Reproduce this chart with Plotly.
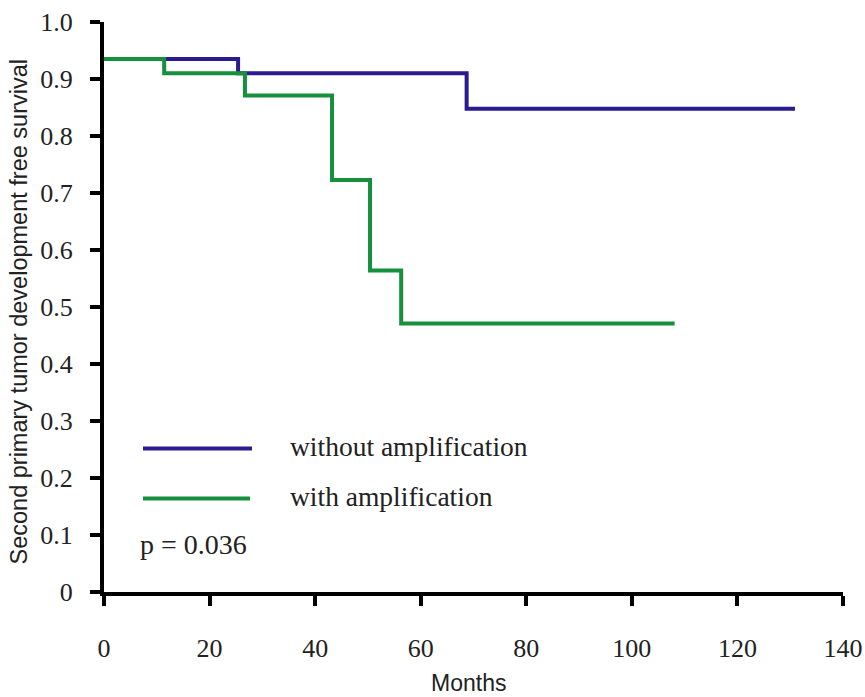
import plotly.graph_objects as go

# Kaplan-Meier step data
without_time = [0, 25.4, 68.7, 130.9]
without_surv = [0.935, 0.910, 0.848, 0.848]

with_time = [0, 11.4, 26.7, 43.2, 50.4, 56.3, 108.1]
with_surv = [0.935, 0.910, 0.871, 0.723, 0.564, 0.471, 0.471]

x_ticks = [0, 20, 40, 60, 80, 100, 120, 140]
y_ticks = [0, 0.1, 0.2, 0.3, 0.4, 0.5, 0.6, 0.7, 0.8, 0.9, 1.0]
y_tick_text = ["0", "0.1", "0.2", "0.3", "0.4", "0.5", "0.6", "0.7", "0.8", "0.9", "1.0"]

BLUE = "#2a1b8e"
GREEN = "#17903e"
SERIF = "Liberation Serif, Times New Roman, serif"
SANS = "Liberation Sans, Arial, sans-serif"
TXT = "#222"

fig = go.Figure()
fig.add_trace(go.Scatter(x=without_time, y=without_surv, mode="lines",
                         line=dict(color=BLUE, width=4, shape="hv"),
                         name="without amplification", showlegend=False))
fig.add_trace(go.Scatter(x=with_time, y=with_surv, mode="lines",
                         line=dict(color=GREEN, width=4, shape="hv"),
                         name="with amplification", showlegend=False))

fig.update_layout(
    width=865, height=697,
    margin=dict(l=104, r=22, t=22, b=105),
    paper_bgcolor="white", plot_bgcolor="white",
    xaxis=dict(range=[0, 140], tickvals=x_ticks, showgrid=False, zeroline=False,
               showline=True, linecolor="black", linewidth=4,
               ticks="outside", ticklen=10, tickwidth=4, tickcolor="black",
               tickfont=dict(family=SERIF, size=26, color=TXT),
               ticklabelstandoff=20, automargin=False),
    yaxis=dict(range=[0, 1.0], tickvals=y_ticks, ticktext=y_tick_text,
               showgrid=False, zeroline=False,
               showline=True, linecolor="black", linewidth=4,
               ticks="outside", ticklen=10, tickwidth=4, tickcolor="black",
               tickfont=dict(family=SERIF, size=26, color=TXT),
               ticklabelstandoff=12, automargin=False),
)

def px_x(p):
    return (p - 104) / 739.0

def px_y(p):
    return (592.5 - p) / 570.0

# legend lines
fig.add_shape(type="line", xref="paper", yref="paper",
              x0=px_x(143), x1=px_x(252), y0=px_y(449), y1=px_y(449),
              line=dict(color=BLUE, width=4))
fig.add_shape(type="line", xref="paper", yref="paper",
              x0=px_x(143), x1=px_x(250), y0=px_y(499), y1=px_y(499),
              line=dict(color=GREEN, width=4))

fig.add_annotation(xref="paper", yref="paper", x=px_x(288), y=px_y(447),
                   text="without amplification", showarrow=False,
                   xanchor="left", yanchor="middle",
                   font=dict(family=SERIF, size=27.5, color=TXT))
fig.add_annotation(xref="paper", yref="paper", x=px_x(288), y=px_y(497),
                   text="with amplification", showarrow=False,
                   xanchor="left", yanchor="middle",
                   font=dict(family=SERIF, size=27.5, color=TXT))
fig.add_annotation(xref="paper", yref="paper", x=px_x(138), y=px_y(545),
                   text="p = 0.036", showarrow=False,
                   xanchor="left", yanchor="middle",
                   font=dict(family=SERIF, size=28, color=TXT))

# axis titles
fig.add_annotation(xref="paper", yref="paper", x=px_x(468), y=px_y(683),
                   text="Months", showarrow=False,
                   xanchor="center", yanchor="middle",
                   font=dict(family=SANS, size=23, color=TXT))
fig.add_annotation(xref="paper", yref="paper", x=px_x(19), y=px_y(313),
                   text="Second primary tumor development free survival",
                   showarrow=False, textangle=-90,
                   xanchor="center", yanchor="middle",
                   font=dict(family=SANS, size=23.5, color=TXT))

fig.write_html("out.html", config={"displayModeBar": False},
               post_script="document.body.style.margin='0';document.body.style.overflow='hidden';")
